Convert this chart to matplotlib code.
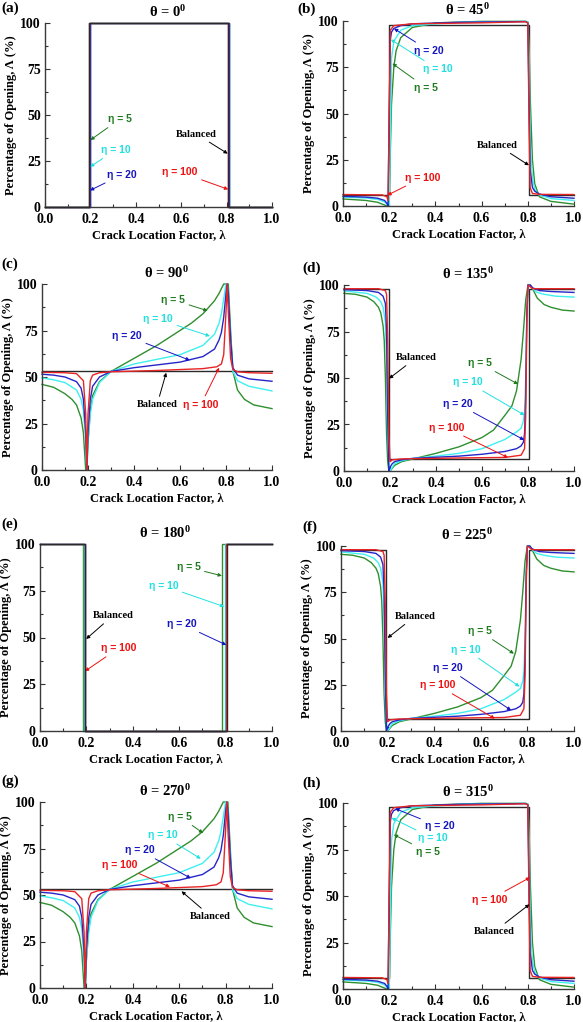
import numpy as np
import matplotlib.pyplot as plt

# ---------------- data ----------------
# theta = 0 : rectangular steps (lambda, opening %)
t0_bal_x = [0, 0.195, 0.195, 0.805, 0.805, 1.0]
t0_e5_x = [0, 0.200, 0.200, 0.812, 0.812, 1.0]
t0_e10_x = [0, 0.199, 0.199, 0.811, 0.811, 1.0]
t0_e20_x = [0, 0.198, 0.198, 0.809, 0.809, 1.0]
t0_e100_x = [0, 0.196, 0.196, 0.807, 0.807, 1.0]
t0_y = [0, 0, 100, 100, 0, 0]

# theta = 180 : inverted steps
t180_bal_x = [0, 0.196, 0.196, 0.806, 0.806, 1.0]
t180_e5_x = [0, 0.187, 0.187, 0.784, 0.784, 1.0]
t180_e10_x = [0, 0.190, 0.190, 0.797, 0.797, 1.0]
t180_e20_x = [0, 0.193, 0.193, 0.803, 0.803, 1.0]
t180_e100_x = [0, 0.195, 0.195, 0.800, 0.800, 1.0]
t180_y = [100, 100, 0, 0, 100, 100]

# theta = 45 / 315
t45_bal_x = [0, 0.2, 0.2, 0.805, 0.805, 1.0]
t45_bal_y = [6, 6, 98, 98, 6, 6]
t45_e100_x = [0, 0.17, 0.19, 0.195, 0.2, 0.205, 0.22, 0.3, 0.6, 0.79, 0.8, 0.805, 0.81, 0.82, 0.85, 1.0]
t45_e100_y = [6.2, 6.0, 5.0, 3, 50, 95, 97.5, 98.5, 99, 99.6, 99, 50, 10, 6.8, 6.3, 6.2]
t45_e20_x = [0, 0.1, 0.15, 0.18, 0.19, 0.195, 0.2, 0.205, 0.21, 0.22, 0.25, 0.3, 0.5, 0.79, 0.8, 0.805,
             0.81, 0.82, 0.83, 0.85, 0.9, 1.0]
t45_e20_y = [5.2, 4.8, 4.2, 3, 1.5, 0, 50, 90, 94, 96, 97.5, 98.5, 99.3, 99.7, 99, 60,
             20, 10, 8, 6.5, 5, 4.2]
t45_e10_x = [0, 0.1, 0.15, 0.18, 0.19, 0.2, 0.205, 0.21, 0.22, 0.25, 0.3, 0.5, 0.79, 0.8, 0.805, 0.81,
             0.82, 0.83, 0.85, 0.9, 1.0]
t45_e10_y = [4.8, 4.3, 3.6, 2.2, 1, 0, 40, 80, 89, 95, 97.5, 99.3, 99.8, 99.5, 80, 35,
             15, 9, 6, 4, 3]
t45_e5_x = [0, 0.1, 0.15, 0.18, 0.19, 0.2, 0.205, 0.21, 0.22, 0.23, 0.25, 0.3, 0.4, 0.6, 0.79, 0.8,
            0.805, 0.81, 0.82, 0.83, 0.85, 0.9, 1.0]
t45_e5_y = [3.8, 3.0, 2.0, 0.5, 0, 0, 30, 55, 75, 84, 91, 96.5, 99, 99.8, 99.8, 99.5,
            90, 60, 25, 12, 5, 2.5, 1]

# theta = 90 / 270
t90_bal_x = [0, 1.0]
t90_bal_y = [53, 53]
t90_e100_x = [0, 0.1, 0.15, 0.18, 0.19, 0.195, 0.2, 0.21, 0.22, 0.25, 0.3, 0.5, 0.7, 0.76, 0.78, 0.79,
              0.8, 0.805, 0.81, 0.82, 0.83, 0.85, 0.9, 1.0]
t90_e100_y = [52.5, 52.3, 51.8, 48, 30, 0, 30, 48, 51, 52.3, 52.8, 53.5, 54.5, 55.5, 57, 62,
              85, 100, 85, 60, 54, 52.8, 52.3, 52]
t90_e20_x = [0, 0.05, 0.1, 0.15, 0.17, 0.18, 0.19, 0.195, 0.2, 0.21, 0.22, 0.25, 0.3, 0.4, 0.5, 0.6,
             0.7, 0.75, 0.77, 0.78, 0.79, 0.8, 0.805, 0.81, 0.82, 0.83, 0.85, 0.9, 1.0]
t90_e20_y = [51.5, 51, 50, 47.5, 44, 38, 20, 0, 20, 38, 45, 50, 53, 55, 56.5, 58,
             61, 65, 70, 74, 82, 95, 100, 95, 70, 55, 51, 49, 47.7]
t90_e10_x = [0, 0.05, 0.1, 0.15, 0.17, 0.18, 0.19, 0.195, 0.2, 0.21, 0.22, 0.25, 0.3, 0.4, 0.5, 0.6,
             0.7, 0.75, 0.77, 0.78, 0.79, 0.8, 0.805, 0.81, 0.82, 0.83, 0.85, 0.9, 1.0]
t90_e10_y = [49.5, 48.5, 47, 43, 38, 32, 15, 0, 15, 30, 38, 47, 53, 57, 59.5, 62,
             67, 73, 79, 84, 92, 100, 100, 95, 70, 53, 48, 45, 42.5]
t90_e5_x = [0, 0.05, 0.1, 0.13, 0.15, 0.17, 0.18, 0.185, 0.19, 0.195, 0.2, 0.21, 0.22, 0.25, 0.3, 0.4,
            0.5, 0.6, 0.65, 0.7, 0.75, 0.77, 0.79, 0.8, 0.805, 0.81, 0.82, 0.83, 0.85, 0.88, 0.92, 1.0]
t90_e5_y = [46, 44.5, 41, 38, 35, 28, 20, 10, 0, 0, 15, 32, 40, 47.5, 53, 60,
            67, 75, 79, 84, 91, 95, 100, 100, 100, 100, 75, 53, 43, 38, 35, 33]

# theta = 135 / 225
t135_bal_x = [0, 0.195, 0.195, 0.805, 0.805, 1.0]
t135_bal_y = [98, 98, 6.5, 6.5, 98, 98]
t135_e100_x = [0, 0.15, 0.18, 0.185, 0.19, 0.195, 0.2, 0.21, 0.25, 0.5, 0.7, 0.77, 0.785, 0.79, 0.795,
               0.8, 0.81, 0.82, 1.0]
t135_e100_y = [98, 98, 97, 95, 70, 20, 5, 6, 6.5, 7, 7.3, 8.5, 12, 30, 80,
               100, 99, 98, 98]
t135_e20_x = [0, 0.1, 0.15, 0.17, 0.18, 0.185, 0.19, 0.195, 0.2, 0.21, 0.22, 0.25, 0.3, 0.5, 0.6, 0.7,
              0.75, 0.77, 0.78, 0.785, 0.79, 0.795, 0.8, 0.81, 0.82, 0.85, 0.9, 1.0]
t135_e20_y = [97.5, 97, 96, 94, 90, 75, 30, 0, 2, 4, 5, 6, 6.8, 8, 9, 10.5,
              12, 13.5, 15.5, 20, 40, 85, 100, 100, 98.5, 97, 96.5, 96]
t135_e10_x = [0, 0.1, 0.14, 0.16, 0.17, 0.18, 0.185, 0.19, 0.195, 0.2, 0.21, 0.22, 0.25, 0.3, 0.4, 0.5,
              0.6, 0.7, 0.75, 0.77, 0.78, 0.785, 0.79, 0.795, 0.8, 0.81, 0.82, 0.84, 0.87, 0.92, 1.0]
t135_e10_y = [96.8, 95.5, 93.5, 91, 88, 80, 60, 20, 5, 0, 2, 4, 5.5, 6.8, 8, 9.5,
              12, 17, 21, 23, 27, 32, 50, 85, 100, 100, 98, 96, 95, 94, 93.5]
t135_e5_x = [0, 0.05, 0.1, 0.13, 0.15, 0.16, 0.17, 0.175, 0.18, 0.185, 0.19, 0.195, 0.2, 0.21, 0.22, 0.25,
             0.3, 0.4, 0.5, 0.6, 0.65, 0.7, 0.73, 0.75, 0.77, 0.78, 0.79, 0.8, 0.81, 0.82, 0.84, 0.87,
             0.9, 0.95, 1.0]
t135_e5_y = [95.5, 95, 93.5, 91, 88, 85, 78, 70, 50, 20, 5, 0, 0, 1.5, 3, 5,
             6.5, 9.5, 13, 18, 22, 30, 35, 43, 60, 75, 92, 100, 100, 98, 93, 89.5,
             88, 86.5, 86]

panel_letters = ['(a)', '(b)', '(c)', '(d)', '(e)', '(f)', '(g)', '(h)']
theta_values = [0, 45, 90, 135, 180, 225, 270, 315]
x_ticks = [0.0, 0.2, 0.4, 0.6, 0.8, 1.0]
y_ticks = [0, 25, 50, 75, 100]

set_0 = {'bal': (t0_bal_x, t0_y), 5: (t0_e5_x, t0_y), 10: (t0_e10_x, t0_y),
         20: (t0_e20_x, t0_y), 100: (t0_e100_x, t0_y)}
set_180 = {'bal': (t180_bal_x, t180_y), 5: (t180_e5_x, t180_y), 10: (t180_e10_x, t180_y),
           20: (t180_e20_x, t180_y), 100: (t180_e100_x, t180_y)}
set_45 = {'bal': (t45_bal_x, t45_bal_y), 5: (t45_e5_x, t45_e5_y), 10: (t45_e10_x, t45_e10_y),
          20: (t45_e20_x, t45_e20_y), 100: (t45_e100_x, t45_e100_y)}
set_90 = {'bal': (t90_bal_x, t90_bal_y), 5: (t90_e5_x, t90_e5_y), 10: (t90_e10_x, t90_e10_y),
          20: (t90_e20_x, t90_e20_y), 100: (t90_e100_x, t90_e100_y)}
set_135 = {'bal': (t135_bal_x, t135_bal_y), 5: (t135_e5_x, t135_e5_y), 10: (t135_e10_x, t135_e10_y),
           20: (t135_e20_x, t135_e20_y), 100: (t135_e100_x, t135_e100_y)}

# ---------------- style ----------------
plt.rcParams['font.family'] = ['Liberation Serif', 'DejaVu Serif']
plt.rcParams['font.weight'] = 'bold'
plt.rcParams['axes.labelweight'] = 'bold'
plt.rcParams['axes.titleweight'] = 'bold'
plt.rcParams['mathtext.fontset'] = 'custom'
plt.rcParams['mathtext.rm'] = 'Liberation Serif:bold'
plt.rcParams['mathtext.it'] = 'Liberation Serif:bold'
plt.rcParams['mathtext.bf'] = 'Liberation Serif:bold'

LINE = {'bal': '#2a2a2a', 5: '#2f8f2f', 10: '#3ef0f0', 20: '#2626c8', 100: '#e82424'}
TXT = {'bal': 'black', 5: '#1f7a1f', 10: '#22e0e0', 20: '#1414c0', 100: '#ee1010'}

W, H = 583, 1022
fig = plt.figure(figsize=(W / 100, H / 100), dpi=100)


def box(l, t, r, b):
    return [l / W, 1 - b / H, (r - l) / W, (b - t) / H]


def note(ax, key, xytext, xy):
    if key == 'bal':
        label, fam = 'Balanced', 'Liberation Serif'
    else:
        label, fam = 'η = %d' % key, 'Liberation Sans'
    ax.annotate(label, xy=xy, xytext=xytext, ha='center', va='center',
                fontsize=7.5, fontweight='bold', family=fam, color=TXT[key],
                arrowprops=dict(arrowstyle='-|>', color=TXT[key], lw=0.7,
                                mutation_scale=5, shrinkA=1, shrinkB=0))


def panel(rect, data, theta, letter, letter_pos, bal_top=False):
    ax = fig.add_axes(box(*rect))
    for key in ['bal', 5, 10, 20, 100]:
        x, y = data[key]
        z = 6 if (key == 'bal' and bal_top) else 2
        ax.plot(x, y, color=LINE[key], lw=1.0, zorder=z, clip_on=False)
    ax.set_xlim(0, 1)
    ax.set_ylim(0, 100)
    ax.set_xticks(x_ticks)
    ax.set_xticklabels(['%.1f' % v for v in x_ticks])
    ax.set_yticks(y_ticks)
    ax.set_xticks(np.arange(0.1, 1.0, 0.2), minor=True)
    ax.set_yticks(np.arange(12.5, 100, 25), minor=True)
    ax.tick_params(which='both', direction='in', labelsize=10, colors='#333333',
                   labelcolor='black', width=0.8)
    ax.tick_params(which='major', length=3.5)
    ax.tick_params(axis='x', which='major', pad=4.5)
    ax.tick_params(axis='y', which='major', pad=3)
    ax.tick_params(which='minor', length=2)
    for s in ['top', 'right']:
        ax.spines[s].set_visible(False)
    for s in ['left', 'bottom']:
        ax.spines[s].set_color('#3a3a3a')
        ax.spines[s].set_linewidth(1.0)
    ax.set_xlabel('Crack Location Factor, λ', fontsize=9, labelpad=2)
    ax.set_ylabel('Percentage of Opening, Λ (%)', fontsize=9, labelpad=2)
    ax.set_title('θ = %d$^{0}$' % theta, fontsize=10.5, x=0.54, pad=4)
    fig.text(letter_pos[0] / W, 1 - letter_pos[1] / H, letter, fontsize=11,
             fontweight='bold', va='top', ha='left')
    return ax


# (a)
ax = panel((45, 23, 272, 207), set_0, theta_values[0], panel_letters[0], (1, 2), bal_top=True)
note(ax, 5, (0.33, 47.8), (0.2, 36.4))
note(ax, 10, (0.31, 31), (0.199, 21.8))
note(ax, 20, (0.34, 17.6), (0.198, 9))
note(ax, 'bal', (0.667, 39.6), (0.805, 29))
note(ax, 100, (0.594, 19), (0.807, 9.6))

# (b)
ax = panel((343, 21, 574, 206), set_45, theta_values[1], panel_letters[1], (297, 3))
note(ax, 20, (0.373, 84), (0.221, 95.9))
note(ax, 10, (0.41, 74), (0.207, 90))
note(ax, 5, (0.359, 64), (0.214, 77))
note(ax, 100, (0.344, 15.3), (0.192, 5.8))
note(ax, 'bal', (0.67, 32.8), (0.805, 22))

# (c)
ax = panel((42, 284, 272, 470), set_90, theta_values[2], panel_letters[2], (1, 258))
note(ax, 5, (0.57, 91.5), (0.72, 85.6))
note(ax, 10, (0.505, 81), (0.73, 72))
note(ax, 20, (0.37, 72), (0.643, 59))
note(ax, 'bal', (0.5, 35), (0.54, 52.3))
note(ax, 100, (0.69, 35), (0.77, 55))

# (d)
ax = panel((344, 285, 574, 471), set_135, theta_values[3], panel_letters[3], (302, 262))
note(ax, 'bal', (0.315, 61), (0.196, 49.7))
note(ax, 5, (0.59, 58), (0.757, 46.7))
note(ax, 10, (0.54, 47.6), (0.785, 30))
note(ax, 20, (0.495, 36), (0.783, 16.7))
note(ax, 100, (0.445, 23.3), (0.713, 7.2))

# (e)
ax = panel((40, 544, 272, 731), set_180, theta_values[4], panel_letters[4], (1, 518), bal_top=True)
note(ax, 'bal', (0.314, 61.7), (0.199, 49.2))
note(ax, 100, (0.338, 44.2), (0.194, 32))
note(ax, 5, (0.64, 87.5), (0.784, 83))
note(ax, 10, (0.532, 77.7), (0.794, 66.5))
note(ax, 20, (0.61, 57.2), (0.803, 46))

# (f)
ax = panel((341, 546, 574, 731), set_135, theta_values[5], panel_letters[5], (302, 521))
note(ax, 'bal', (0.318, 62), (0.2, 50.3))
note(ax, 5, (0.595, 54), (0.742, 41.8))
note(ax, 10, (0.537, 44), (0.766, 24))
note(ax, 20, (0.458, 34), (0.73, 11.2))
note(ax, 100, (0.415, 24.7), (0.66, 6.7))

# (g)
ax = panel((40, 802, 272, 988), set_90, theta_values[6], panel_letters[6], (1, 775))
note(ax, 5, (0.603, 92), (0.703, 83.3))
note(ax, 10, (0.53, 82), (0.693, 69.5))
note(ax, 20, (0.43, 74), (0.65, 59))
note(ax, 100, (0.344, 66), (0.56, 54.3))
note(ax, 'bal', (0.736, 38.5), (0.61, 52))

# (h)
ax = panel((343, 803, 574, 989), set_45, theta_values[7], panel_letters[7], (302, 777))
note(ax, 20, (0.417, 87.4), (0.226, 97))
note(ax, 10, (0.39, 81), (0.21, 92))
note(ax, 5, (0.366, 73.7), (0.22, 83))
note(ax, 100, (0.634, 48), (0.81, 60))
note(ax, 'bal', (0.656, 31), (0.807, 45.5))

fig.savefig('out.png', dpi=100)
